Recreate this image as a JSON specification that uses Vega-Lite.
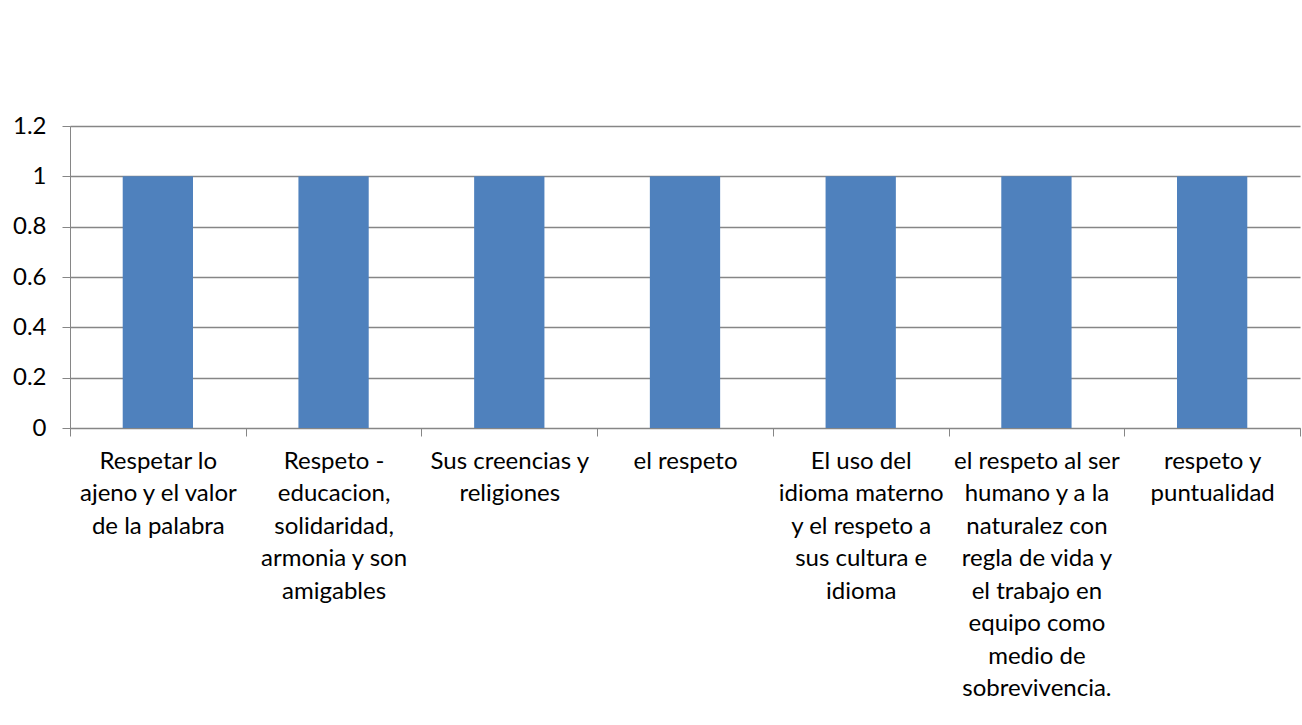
{
  "$schema": "https://vega.github.io/schema/vega-lite/v6.json",
  "width": 1230,
  "height": 302,
  "autosize": "none",
  "padding": {"left": 70, "top": 126, "right": 2, "bottom": 297},
  "background": "white",
  "data": {
    "values": [
      {"cat": "Respetar lo|ajeno y el valor|de la palabra", "value": 1},
      {"cat": "Respeto -|educacion,|solidaridad,|armonia y son|amigables", "value": 1},
      {"cat": "Sus creencias y|religiones", "value": 1},
      {"cat": "el respeto", "value": 1},
      {"cat": "El uso del|idioma materno|y el respeto a|sus cultura e|idioma", "value": 1},
      {"cat": "el respeto al ser|humano y a la|naturalez con|regla de vida y|el trabajo en|equipo como|medio de|sobrevivencia.", "value": 1},
      {"cat": "respeto y|puntualidad", "value": 1}
    ]
  },
  "mark": {"type": "bar", "color": "#4F81BD", "width": {"band": 0.4}},
  "encoding": {
    "x": {
      "field": "cat",
      "type": "nominal",
      "sort": null,
      "scale": {"paddingInner": 0, "paddingOuter": 0},
      "axis": {
        "title": null,
        "labelAngle": 0,
        "labelExpr": "split(datum.label, '|')",
        "tickBand": "extent",
        "domainColor": "#868686",
        "tickColor": "#868686",
        "tickSize": 8,
        "labelFont": "Lato",
        "labelFontSize": 24,
        "labelLineHeight": 32.5,
        "labelPadding": 13,
        "labelLimit": 0,
        "labelColor": "#000000",
        "labelBaseline": "top",
        "labelAlign": "center"
      }
    },
    "y": {
      "field": "value",
      "type": "quantitative",
      "scale": {"domain": [0, 1.2], "nice": false},
      "axis": {
        "title": null,
        "values": [0, 0.2, 0.4, 0.6, 0.8, 1, 1.2],
        "format": "~g",
        "grid": true,
        "gridColor": "#868686",
        "gridWidth": 1.3,
        "domainColor": "#868686",
        "tickColor": "#868686",
        "tickSize": 8,
        "labelFont": "Lato",
        "labelFontSize": 24,
        "labelPadding": 16,
        "labelColor": "#000000"
      }
    }
  },
  "config": {
    "view": {"stroke": null}
  }
}
